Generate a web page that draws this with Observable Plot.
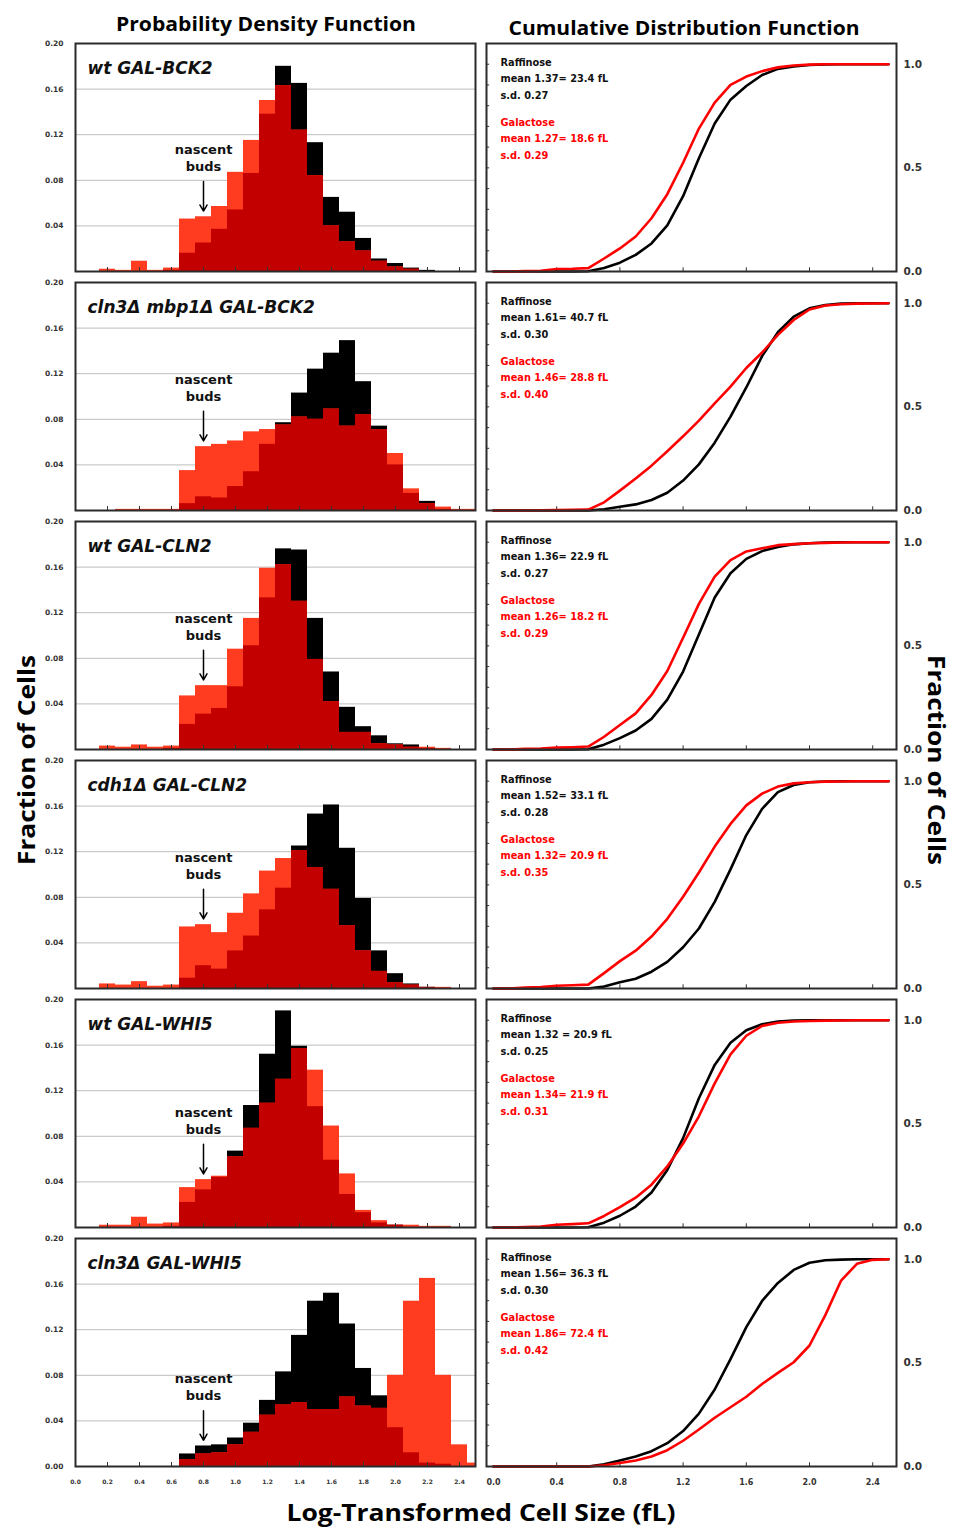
<!DOCTYPE html>
<html><head><meta charset="utf-8">
<script src="https://cdn.jsdelivr.net/npm/d3@7"></script>
<script src="https://cdn.jsdelivr.net/npm/@observablehq/plot@0.6"></script>
<style>
body{margin:0;background:#fff;}
#root{position:relative;width:955px;height:1528px;overflow:hidden;font-family:"Open Sans",sans-serif;background:#fff;}
#root .panel{position:absolute;}
#root .panel svg{background:transparent !important;overflow:visible;max-width:none;font-family:"DejaVu Sans",sans-serif;}
#labels{position:absolute;left:0;top:0;}
</style></head><body>
<div id="root">
<svg id="labels" width="955" height="1528" font-family="Open Sans, sans-serif" font-weight="700">
<text x="266" y="31" text-anchor="middle" font-size="19.5" textLength="300" lengthAdjust="spacingAndGlyphs">Probability Density Function</text>
<text x="684" y="35" text-anchor="middle" font-size="19.5" textLength="351" lengthAdjust="spacingAndGlyphs">Cumulative Distribution Function</text>
<text transform="translate(35,760) rotate(-90)" text-anchor="middle" font-size="24" textLength="210" lengthAdjust="spacingAndGlyphs">Fraction of Cells</text>
<text transform="translate(928,760) rotate(90)" text-anchor="middle" font-size="23.5" textLength="210" lengthAdjust="spacingAndGlyphs">Fraction of Cells</text>
<text x="481" y="1521" text-anchor="middle" font-size="24" textLength="389" lengthAdjust="spacingAndGlyphs">Log-Transformed Cell Size (fL)</text>
</svg>
</div>
<script>
// ---- data ----
const binCenters = [0.0,0.1,0.2,0.3,0.4,0.5,0.6,0.7,0.8,0.9,1.0,1.1,1.2,1.3,1.4,1.5,1.6,1.7,1.8,1.9,2.0,2.1,2.2,2.3,2.4,2.5];
const binWidth = 0.1;

const strains = ["wt GAL-BCK2", "cln3Δ mbp1Δ GAL-BCK2", "wt GAL-CLN2", "cdh1Δ GAL-CLN2", "wt GAL-WHI5", "cln3Δ GAL-WHI5"];

const rafWtBck2   = [0,0,0,0,0,0,0.001,0.016,0.025,0.037,0.054,0.086,0.138,0.180,0.165,0.113,0.065,0.052,0.029,0.011,0.007,0.003,0.001,0,0,0];
const galWtBck2   = [0,0,0.002,0.001,0.009,0.001,0.003,0.046,0.048,0.057,0.087,0.115,0.150,0.163,0.124,0.084,0.040,0.026,0.018,0.009,0.004,0.002,0,0,0,0];
const rafCln3Mbp1 = [0,0,0,0,0,0,0,0.006,0.012,0.011,0.021,0.034,0.058,0.077,0.103,0.124,0.138,0.149,0.113,0.074,0.040,0.015,0.008,0.001,0,0];
const galCln3Mbp1 = [0,0,0,0.001,0.001,0.001,0.001,0.035,0.056,0.058,0.061,0.069,0.071,0.075,0.082,0.080,0.089,0.074,0.084,0.071,0.050,0.019,0.006,0.003,0.001,0.001];
const rafWtCln2   = [0,0,0,0,0,0,0.001,0.022,0.031,0.036,0.055,0.091,0.133,0.176,0.175,0.115,0.068,0.037,0.020,0.012,0.005,0.004,0.001,0,0,0];
const galWtCln2   = [0,0,0.003,0.002,0.004,0.002,0.003,0.047,0.056,0.056,0.088,0.115,0.159,0.162,0.130,0.079,0.042,0.015,0.015,0.005,0.004,0.002,0.002,0.001,0,0];
const rafCdh1Cln2 = [0,0,0,0,0,0,0,0.009,0.020,0.017,0.033,0.046,0.069,0.088,0.125,0.153,0.161,0.123,0.079,0.033,0.013,0.004,0.001,0,0,0];
const galCdh1Cln2 = [0,0,0.004,0.003,0.006,0.002,0.003,0.054,0.056,0.049,0.066,0.083,0.103,0.114,0.121,0.106,0.087,0.055,0.033,0.015,0.005,0.003,0.001,0.001,0,0];
const rafWtWhi5   = [0,0,0,0,0,0,0.001,0.022,0.033,0.044,0.067,0.107,0.152,0.190,0.159,0.106,0.059,0.029,0.013,0.004,0.002,0,0,0,0,0];
const galWtWhi5   = [0,0,0.002,0.002,0.009,0.003,0.004,0.035,0.042,0.045,0.062,0.087,0.109,0.130,0.157,0.138,0.089,0.047,0.015,0.006,0.002,0.002,0.001,0.001,0,0];
const rafCln3Whi5 = [0,0,0,0,0,0,0,0.011,0.018,0.019,0.025,0.038,0.058,0.083,0.115,0.145,0.152,0.125,0.086,0.062,0.034,0.012,0.003,0.002,0,0];
const galCln3Whi5 = [0,0,0,0,0,0,0,0.006,0.011,0.012,0.019,0.030,0.045,0.054,0.056,0.050,0.050,0.061,0.053,0.051,0.080,0.145,0.165,0.080,0.019,0.003];

const raffinose = [rafWtBck2, rafCln3Mbp1, rafWtCln2, rafCdh1Cln2, rafWtWhi5, rafCln3Whi5];
const galactose = [galWtBck2, galCln3Mbp1, galWtCln2, galCdh1Cln2, galWtWhi5, galCln3Whi5];

const raffinoseStats = [
  "mean 1.37= 23.4 fL\ns.d. 0.27",
  "mean 1.61= 40.7 fL\ns.d. 0.30",
  "mean 1.36= 22.9 fL\ns.d. 0.27",
  "mean 1.52= 33.1 fL\ns.d. 0.28",
  "mean 1.32 = 20.9 fL\ns.d. 0.25",
  "mean 1.56= 36.3 fL\ns.d. 0.30"
];
const galactoseStats = [
  "mean 1.27= 18.6 fL\ns.d. 0.29",
  "mean 1.46= 28.8 fL\ns.d. 0.40",
  "mean 1.26= 18.2 fL\ns.d. 0.29",
  "mean 1.32= 20.9 fL\ns.d. 0.35",
  "mean 1.34= 21.9 fL\ns.d. 0.31",
  "mean 1.86= 72.4 fL\ns.d. 0.42"
];

const nascentBudsX = 0.8;
const pdfYTicksInner = [0.04, 0.08, 0.12, 0.16, 0.20];
const pdfYTicksLast = [0.00, 0.04, 0.08, 0.12, 0.16, 0.20];
const pdfGrid = [0.04, 0.08, 0.12, 0.16];
const pdfXTicks = [0.0,0.2,0.4,0.6,0.8,1.0,1.2,1.4,1.6,1.8,2.0,2.2,2.4];
const cdfXTicks = [0.0,0.4,0.8,1.2,1.6,2.0,2.4];
const cdfYTicks = [0.0,0.5,1.0];
const cdfMinorTicks = [0.1,0.2,0.3,0.4,0.5,0.6,0.7,0.8,0.9,1.0];

// ---- styling / layout ----
const pdfDomain = [0, 2.5];
const cdfDomain = [-0.0443, 2.5506];
const colBlack = "#000000";
const colBright = "#ff3b20";
const colDark = "#c20000";
const colLineRed = "#ff0000";
const frameStroke = "#2b2b2b";
const font = "DejaVu Sans";
const rowTop0 = 43, rowStep = 239, frameH = 228, mTop = 8;

const normalizedCumsum = (V) => { const total = d3.sum(V); let s = 0; return Array.from(V, v => (s += v) / total); };

const root = document.getElementById("root");

function place(svg, left, top) {
  const div = document.createElement("div");
  div.className = "panel";
  div.style.left = left + "px";
  div.style.top = top + "px";
  div.appendChild(svg);
  root.appendChild(div);
}

strains.forEach((strain, i) => {
  const rows = binCenters.map((x, j) => ({x, raf: raffinose[i][j], gal: galactose[i][j]}));
  const last = i === strains.length - 1;
  const mBottom = last ? 28 : 4;
  const top = rowTop0 + rowStep * i;
  const nb = rows.filter(d => d.x === nascentBudsX).map(d => ({x: d.x, tip: Math.max(d.raf, d.gal) + 0.005}));
  const x1 = d => Math.max(d.x - binWidth / 2, pdfDomain[0]);
  const x2 = d => Math.min(d.x + binWidth / 2, pdfDomain[1]);

  const pdf = Plot.plot({
    width: 480, height: frameH + mTop + mBottom,
    marginLeft: 75, marginRight: 5, marginTop: mTop, marginBottom: mBottom,
    x: {domain: pdfDomain, axis: null},
    y: {domain: [0, 0.2], axis: null},
    marks: [
      Plot.ruleY(pdfGrid, {stroke: "#bdbdbd", strokeWidth: 1}),
      Plot.rect(rows, {x1, x2, y1: 0, y2: "raf", fill: colBlack}),
      Plot.rect(rows, {x1, x2, y1: 0, y2: "gal", fill: colBright}),
      Plot.rect(rows, {x1, x2, y1: 0, y2: d => Math.min(d.raf, d.gal), fill: colDark}),
      Plot.ruleX(pdfXTicks.slice(1), {y1: 0, y2: 0.0035, stroke: "#333", strokeWidth: 1}),
      Plot.frame({stroke: frameStroke, strokeWidth: 2}),
      Plot.axisY(last ? pdfYTicksLast : pdfYTicksInner, {anchor: "left", label: null, tickSize: 0, tickPadding: 12, tickFormat: d3.format(".2f"), fontSize: 7.5, fontWeight: "bold", fontFamily: font, fill: "#333"}),
      last ? Plot.axisX(pdfXTicks, {anchor: "bottom", label: null, tickSize: 0, tickPadding: 13, tickFormat: d3.format(".1f"), fontSize: 6, fontWeight: "bold", fontFamily: font, fill: "#333"}) : null,
      Plot.text([strain], {text: d => d, frameAnchor: "top-left", dx: 12, dy: 30, lineAnchor: "bottom", textAnchor: "start", fontSize: 17, fontStyle: "italic", fontWeight: "bold", fontFamily: font, fill: "#111"}),
      Plot.arrow(nb, {x1: "x", x2: "x", y1: d => d.tip + 0.026, y2: "tip", stroke: "#000", strokeWidth: 1.5, headLength: 7}),
      Plot.text(nb, {x: "x", y: d => d.tip + 0.035, text: () => "nascent\nbuds", lineAnchor: "bottom", lineHeight: 1.3, fontSize: 13, fontWeight: "bold", fontFamily: font, fill: "#111"})
    ]
  });
  place(pdf, 0, top - mTop);

  const cdf = Plot.plot({
    width: 475, height: frameH + mTop + mBottom,
    marginLeft: 6, marginRight: 59, marginTop: mTop, marginBottom: mBottom,
    x: {domain: cdfDomain, axis: null},
    y: {domain: [0, 1.1], axis: null},
    marks: [
      Plot.ruleX(cdfXTicks.slice(1), {y1: 0, y2: 0.018, stroke: "#333", strokeWidth: 1}),
      Plot.ruleY(cdfMinorTicks, {x1: cdfDomain[0], x2: cdfDomain[0] + 0.02, stroke: "#333", strokeWidth: 1}),
      Plot.lineY(rows, Plot.mapY(normalizedCumsum, {x: "x", y: "raf", stroke: colBlack, strokeWidth: 2.6})),
      Plot.lineY(rows, Plot.mapY(normalizedCumsum, {x: "x", y: "gal", stroke: colLineRed, strokeWidth: 2.6})),
      Plot.frame({stroke: frameStroke, strokeWidth: 2}),
      Plot.axisY(cdfYTicks, {anchor: "right", label: null, tickSize: 0, tickPadding: 7, tickFormat: d3.format(".1f"), fontSize: 10.5, fontWeight: "bold", fontFamily: font, fill: "#333"}),
      last ? Plot.axisX(cdfXTicks, {anchor: "bottom", label: null, tickSize: 0, tickPadding: 13, tickFormat: d3.format(".1f"), fontSize: 8, fontWeight: "bold", fontFamily: font, fill: "#333"}) : null,
      Plot.text(["Raffinose\n" + raffinoseStats[i]], {text: d => d, frameAnchor: "top-left", dx: 14, dy: 55, lineAnchor: "bottom", textAnchor: "start", lineHeight: 1.65, fontSize: 9.8, fontWeight: "bold", fontFamily: font, fill: "#111"}),
      Plot.text(["Galactose\n" + galactoseStats[i]], {text: d => d, frameAnchor: "top-left", dx: 14, dy: 115, lineAnchor: "bottom", textAnchor: "start", lineHeight: 1.65, fontSize: 9.8, fontWeight: "bold", fontFamily: font, fill: colLineRed})
    ]
  });
  place(cdf, 480, top - mTop);
});
</script>
</body></html>
